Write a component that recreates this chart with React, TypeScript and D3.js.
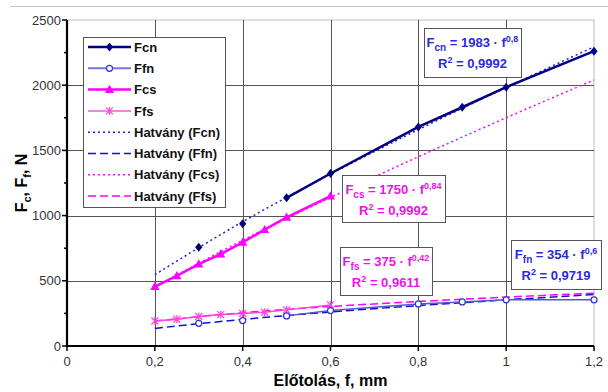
import * as React from 'react';
import * as d3 from 'd3';
import {useEffect, useRef} from 'react';

// measured points (null = missing measurement, line is broken there)
const feedN = [0.3, 0.35, 0.4, 0.45, 0.5, 0.6, 0.8, 0.9, 1, 1.2];
const fcnValues = [758, null, 938, null, 1136, 1323, 1680, 1831, 1985, 2261];
const ffnValues = [174, null, 195, null, 231, 272, 323, 338, 354, 354];

const feedS = [0.2, 0.25, 0.3, 0.35, 0.4, 0.45, 0.5, 0.6];
const fcsValues = [455, 538, 628, 705, 795, 892, 987, 1149];
const ffsValues = [192, 205, 226, 241, 249, 259, 277, 315];

// power trend lines
const trendFeed = [0.2, 0.4, 0.6, 0.8, 1, 1.2];
const fcnTrend = [547, 953, 1318, 1659, 1983, 2294];
const ffnTrend = [135, 204, 261, 310, 354, 395];
const fcsTrend = [453, 811, 1139, 1451, 1750, 2040];
const ffsTrend = [191, 255, 303, 341, 375, 405];

const xTicks = [0, 0.2, 0.4, 0.6, 0.8, 1, 1.2];
const yTicks = [0, 500, 1000, 1500, 2000, 2500];
const yMinorTicks = [250, 750, 1250, 1750, 2250];

const legendLabels = ['Fcn', 'Ffn', 'Fcs', 'Ffs', 'Hatvány (Fcn)', 'Hatvány (Ffn)', 'Hatvány (Fcs)', 'Hatvány (Ffs)'];

const fitSubs = ['cn', 'cs', 'fs', 'fn'];
const fitCoefs = ['1983', '1750', '375', '354'];
const fitExps = ['0,8', '0,84', '0,42', '0,6'];
const fitR2 = ['0,9992', '0,9992', '0,9611', '0,9719'];

const W = 608;
const H = 392;
const margins = {left: 67, right: 14, top: 20, bottom: 46};
const FONT = '"Liberation Sans", Arial, sans-serif';

const NAVY = '#000080';
const BLUE = '#3333cc';
const MAGENTA = '#ff00ff';
const PINK = '#ff44dd';

const diamond = 'M0,-4.5L3.6,0L0,4.5L-3.6,0Z';
const triangle = 'M0,-4.8L4.6,3.4L-4.6,3.4Z';
const asterisk = 'M-3.5,-3.5L3.5,3.5M-3.5,3.5L3.5,-3.5M0,-4L0,4';

function drawMarker(g: any, kind: string, x: number, y: number) {
    if (kind === 'diamond') {
        g.append('path').attr('d', diamond).attr('transform', `translate(${x},${y})`).attr('fill', NAVY);
    } else if (kind === 'triangle') {
        g.append('path').attr('d', triangle).attr('transform', `translate(${x},${y})`).attr('fill', MAGENTA);
    } else if (kind === 'circle') {
        g.append('circle').attr('cx', x).attr('cy', y).attr('r', 3).attr('fill', '#fff').attr('stroke', BLUE).attr('stroke-width', 1.2);
    } else if (kind === 'asterisk') {
        g.append('path').attr('d', asterisk).attr('transform', `translate(${x},${y})`).attr('stroke', PINK).attr('stroke-width', 1.2).attr('fill', 'none');
    }
}

export default function App() {
    const svgRef = useRef<SVGSVGElement>(null);

    useEffect(() => {
        const svg = d3.select(svgRef.current);
        svg.selectAll('*').remove();

        const x = d3.scaleLinear().domain([0, 1.2]).range([margins.left, W - margins.right]);
        const y = d3.scaleLinear().domain([0, 2500]).range([H - margins.bottom, margins.top]);

        // outer figure line
        svg.append('line').attr('x1', 10).attr('x2', W).attr('y1', 6.5).attr('y2', 6.5).attr('stroke', '#c8c8c8');

        // plot frame
        svg.append('rect').attr('x', margins.left).attr('y', margins.top)
            .attr('width', x(1.2) - margins.left).attr('height', y(0) - margins.top)
            .attr('fill', '#fff').attr('stroke', '#bbb');

        // grid
        const grid = svg.append('g').attr('stroke', '#555').attr('stroke-width', 1);
        yTicks.slice(1, -1).forEach(v => {
            grid.append('line').attr('x1', x(0)).attr('x2', x(1.2)).attr('y1', Math.round(y(v)) + 0.5).attr('y2', Math.round(y(v)) + 0.5);
        });
        xTicks.slice(1, -1).forEach(v => {
            grid.append('line').attr('y1', y(0)).attr('y2', y(2500)).attr('x1', Math.round(x(v)) + 0.5).attr('x2', Math.round(x(v)) + 0.5);
        });

        // axes
        const axes = svg.append('g').attr('stroke', '#000');
        axes.append('line').attr('x1', x(0)).attr('x2', x(0)).attr('y1', y(2500)).attr('y2', y(0) + 1).attr('stroke-width', 2.2);
        axes.append('line').attr('x1', x(0) - 1).attr('x2', x(1.2)).attr('y1', y(0)).attr('y2', y(0)).attr('stroke-width', 2.2);
        yTicks.forEach(v => axes.append('line').attr('x1', x(0) - 5).attr('x2', x(0)).attr('y1', y(v)).attr('y2', y(v)).attr('stroke-width', 1.5));
        yMinorTicks.forEach(v => axes.append('line').attr('x1', x(0) - 3).attr('x2', x(0)).attr('y1', y(v)).attr('y2', y(v)).attr('stroke-width', 1.5));
        xTicks.forEach(v => axes.append('line').attr('x1', x(v)).attr('x2', x(v)).attr('y1', y(0)).attr('y2', y(0) + 5).attr('stroke-width', 1.5));

        const labels = svg.append('g').attr('font-family', FONT).attr('font-size', 13).attr('fill', '#333');
        yTicks.forEach(v => labels.append('text').attr('x', x(0) - 6).attr('y', y(v)).attr('dy', '0.35em').attr('text-anchor', 'end').text(String(v)));
        xTicks.forEach(v => labels.append('text').attr('x', x(v)).attr('y', y(0) + 20).attr('text-anchor', 'middle').text(String(v).replace('.', ',')));

        // axis titles
        svg.append('text').attr('x', (x(0) + x(1.2)) / 2).attr('y', 386).attr('text-anchor', 'middle')
            .attr('font-family', FONT).attr('font-size', 16).attr('font-weight', 'bold').text('Előtolás, f, mm');
        const yt = svg.append('text').attr('transform', `translate(27,${(y(0) + y(2500)) / 2}) rotate(-90)`)
            .attr('text-anchor', 'middle').attr('font-family', FONT).attr('font-size', 16).attr('font-weight', 'bold');
        yt.append('tspan').text('F');
        yt.append('tspan').attr('font-size', 11).attr('dy', 4).text('c');
        yt.append('tspan').attr('dy', -4).text(', F');
        yt.append('tspan').attr('font-size', 11).attr('dy', 4).text('f');
        yt.append('tspan').attr('dy', -4).text(', N');

        // trend lines
        const trend = (vals: number[], color: string, dash: string) => {
            const line = d3.line<number>().x((_, i) => x(trendFeed[i])).y(d => y(d)).curve(d3.curveMonotoneX);
            svg.append('path').attr('d', line(vals)).attr('fill', 'none').attr('stroke', color)
                .attr('stroke-width', 1.5).attr('stroke-dasharray', dash);
        };
        trend(fcnTrend, '#2222dd', '2,3');
        trend(fcsTrend, MAGENTA, '2,3');
        trend(ffnTrend, '#1111cc', '8,4');
        trend(ffsTrend, MAGENTA, '8,4');

        // measured series
        const series = (xs: number[], vals: (number | null)[], color: string, width: number, marker: string) => {
            const pts = xs.map((f, i) => ({f, v: vals[i]}));
            const line = d3.line<any>().defined(d => d.v != null).x(d => x(d.f)).y(d => y(d.v));
            svg.append('path').attr('d', line(pts)).attr('fill', 'none').attr('stroke', color).attr('stroke-width', width);
            const g = svg.append('g');
            pts.filter(d => d.v != null).forEach(d => drawMarker(g, marker, x(d.f), y(d.v as number)));
        };
        series(feedS, ffsValues, PINK, 1.5, 'asterisk');
        series(feedN, ffnValues, '#5555cc', 1.5, 'circle');
        series(feedS, fcsValues, MAGENTA, 2.5, 'triangle');
        series(feedN, fcnValues, NAVY, 2.5, 'diamond');

        // equation boxes
        const boxes = [
            {x: 424, y: 28, w: 97, h: 49, color: '#2b2bdd'},
            {x: 342, y: 175, w: 103, h: 47, color: '#ee11ee'},
            {x: 340, y: 247, w: 92, h: 48, color: '#ee11ee'},
            {x: 511, y: 240, w: 90, h: 49, color: '#2b2bdd'},
        ];
        boxes.forEach((b, i) => {
            const g = svg.append('g').attr('font-family', FONT).attr('font-weight', 'bold').attr('fill', b.color).attr('font-size', 13);
            g.append('rect').attr('x', b.x + 0.5).attr('y', b.y + 0.5).attr('width', b.w).attr('height', b.h)
                .attr('fill', '#fff').attr('stroke', '#555');
            const t1 = g.append('text').attr('x', b.x + b.w / 2).attr('y', b.y + 19).attr('text-anchor', 'middle');
            t1.append('tspan').text('F');
            t1.append('tspan').attr('font-size', 10).attr('dy', 4).text(fitSubs[i]);
            t1.append('tspan').attr('dy', -4).text(` = ${fitCoefs[i]} · f`);
            t1.append('tspan').attr('font-size', 9).attr('dy', -5).text(fitExps[i]);
            const t2 = g.append('text').attr('x', b.x + b.w / 2).attr('y', b.y + 40).attr('text-anchor', 'middle');
            t2.append('tspan').text('R');
            t2.append('tspan').attr('font-size', 9).attr('dy', -5).text('2');
            t2.append('tspan').attr('dy', 5).text(` = ${fitR2[i]}`);
        });

        // legend
        const lg = svg.append('g');
        lg.append('rect').attr('x', 83.5).attr('y', 37.5).attr('width', 142).attr('height', 170)
            .attr('fill', '#fff').attr('stroke', '#555');
        const legendStyle = [
            {color: NAVY, width: 2.5, dash: null, marker: 'diamond'},
            {color: '#7777dd', width: 2, dash: null, marker: 'circle'},
            {color: MAGENTA, width: 2.5, dash: null, marker: 'triangle'},
            {color: '#ee88dd', width: 2, dash: null, marker: 'asterisk'},
            {color: '#2222dd', width: 1.5, dash: '2,3', marker: null},
            {color: '#1111cc', width: 1.5, dash: '8,4', marker: null},
            {color: MAGENTA, width: 1.5, dash: '2,3', marker: null},
            {color: MAGENTA, width: 1.5, dash: '8,4', marker: null},
        ];
        legendLabels.forEach((label, i) => {
            const ly = 47 + i * 21.3;
            const s = legendStyle[i];
            const l = lg.append('line').attr('x1', 88).attr('x2', 131).attr('y1', ly).attr('y2', ly)
                .attr('stroke', s.color).attr('stroke-width', s.width);
            if (s.dash) l.attr('stroke-dasharray', s.dash);
            if (s.marker) drawMarker(lg, s.marker, 109.5, ly);
            lg.append('text').attr('x', 134).attr('y', ly).attr('dy', '0.36em')
                .attr('font-family', FONT).attr('font-size', 13).attr('font-weight', 'bold').attr('fill', '#111')
                .text(label);
        });
    }, []);

    return (
        <div style={{position: 'absolute', left: 0, top: 0}}>
            <svg ref={svgRef} width={W} height={H} viewBox={`0 0 ${W} ${H}`} style={{display: 'block', background: '#fff'}}/>
        </div>
    );
}
